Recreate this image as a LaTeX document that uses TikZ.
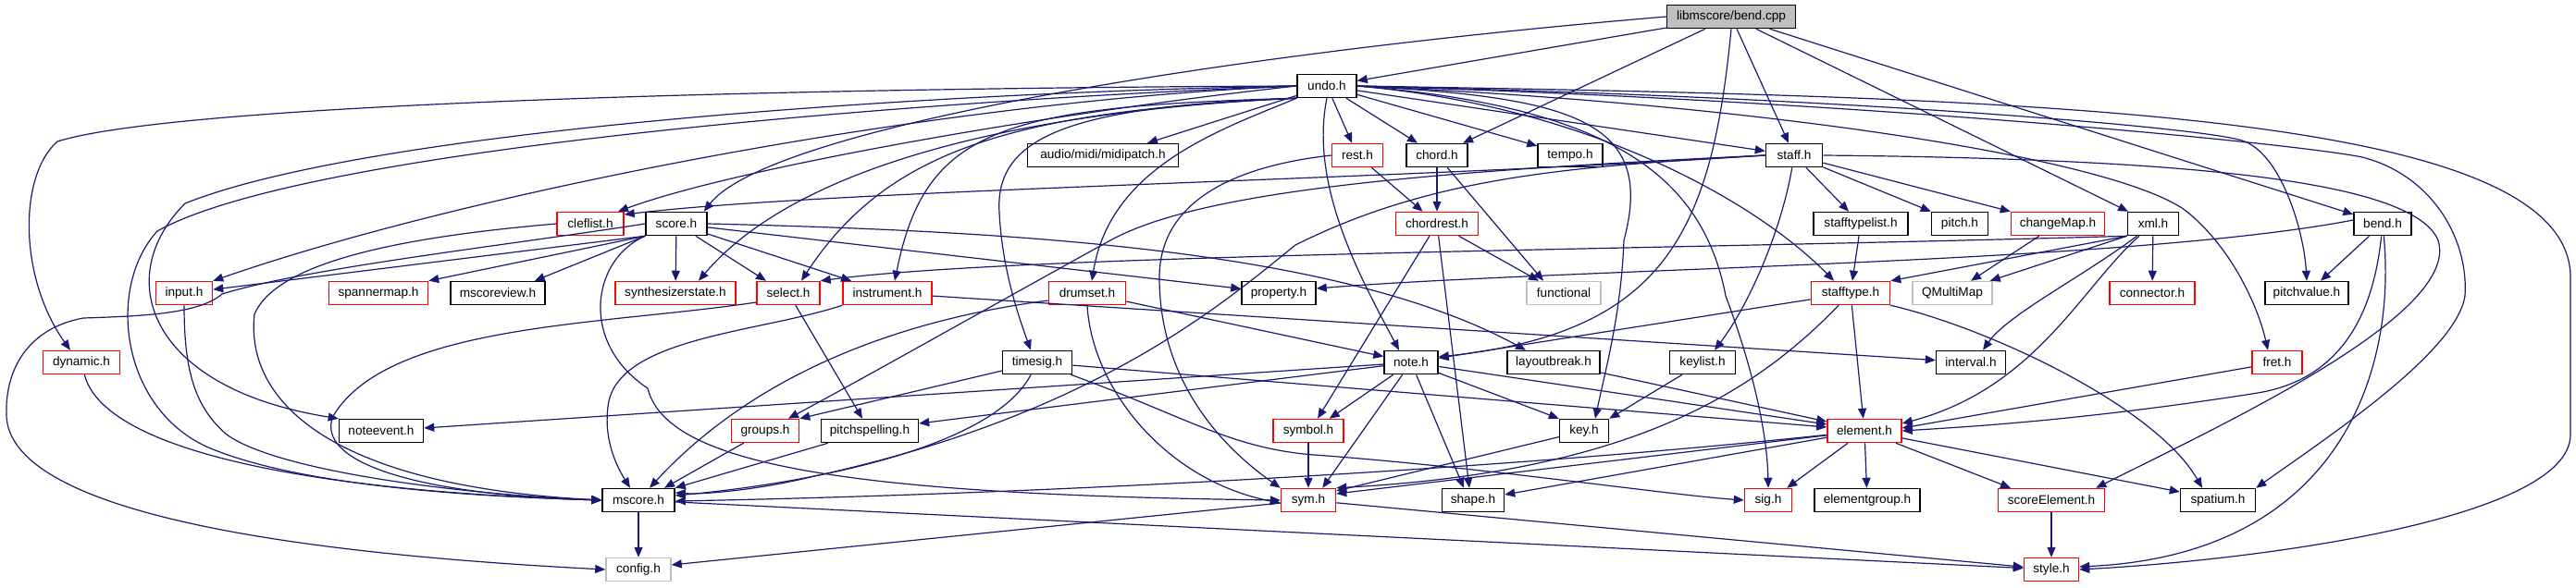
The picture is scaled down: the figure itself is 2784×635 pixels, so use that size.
\documentclass[tikz,border=0pt]{standalone}
\usepackage{fontspec}
\setmainfont{Liberation Sans}
\usetikzlibrary{arrows.meta}
\definecolor{incblue}{HTML}{191970}
\definecolor{extgray}{HTML}{BFBFBF}
\tikzset{
  hdr/.style={draw=black, line width=1.5pt, fill=white, minimum height=25pt, inner sep=0pt, font=\fontsize{13.6}{16}\selectfont},
  hred/.style={hdr, draw=red},
  hext/.style={hdr, draw=extgray},
  hroot/.style={hdr, fill=extgray},
  inc/.style={incblue, line width=1.2pt, -{Triangle[length=11pt,width=9pt]}},
}
\begin{document}
\begin{tikzpicture}[x=1pt,y=-1pt]
\useasboundingbox (0,0) rectangle (2784,635);
% include graph of bend.cpp, one row of files per rank
\node[hroot, minimum width=139pt] (bendcpp) at (1871,18) {libmscore/bend.cpp};
\node[hdr, minimum width=64pt] (undo) at (1434,93) {undo.h};
\node[hdr, minimum width=163pt] (midipatch) at (1192,168) {audio/midi/midipatch.h};
\node[hred, minimum width=55pt] (rest) at (1467,168) {rest.h};
\node[hdr, minimum width=66pt] (chord) at (1553,168) {chord.h};
\node[hdr, minimum width=70pt] (tempo) at (1697,168) {tempo.h};
\node[hdr, minimum width=61pt] (staff) at (1939,168) {staff.h};
\node[hred, minimum width=72pt] (cleflist) at (638,242) {cleflist.h};
\node[hdr, minimum width=66pt] (score) at (731,242) {score.h};
\node[hred, minimum width=89pt] (chordrest) at (1553,242) {chordrest.h};
\node[hdr, minimum width=102pt] (stafftypelist) at (2011,242) {stafftypelist.h};
\node[hdr, minimum width=61pt] (pitch) at (2118,242) {pitch.h};
\node[hred, minimum width=101pt] (changeMap) at (2224,242) {changeMap.h};
\node[hdr, minimum width=55pt] (xml) at (2327,242) {xml.h};
\node[hdr, minimum width=62pt] (bendh) at (2575,242) {bend.h};
\node[hred, minimum width=61pt] (input) at (199,317) {input.h};
\node[hred, minimum width=107pt] (spannermap) at (409,317) {spannermap.h};
\node[hdr, minimum width=102pt] (mscoreview) at (538,317) {mscoreview.h};
\node[hred, minimum width=130pt] (synthesizerstate) at (730,317) {synthesizerstate.h};
\node[hred, minimum width=68pt] (select) at (852,317) {select.h};
\node[hred, minimum width=96pt] (instrument) at (959,317) {instrument.h};
\node[hred, minimum width=83pt] (drumset) at (1175,317) {drumset.h};
\node[hdr, minimum width=80pt] (property) at (1382,317) {property.h};
\node[hext, minimum width=80pt] (functional) at (1690,317) {functional};
\node[hred, minimum width=85pt] (stafftype) at (2000,317) {stafftype.h};
\node[hext, minimum width=86pt] (QMultiMap) at (2110,317) {QMultiMap};
\node[hred, minimum width=92pt] (connector) at (2326,317) {connector.h};
\node[hdr, minimum width=90pt] (pitchvalue) at (2493,317) {pitchvalue.h};
\node[hred, minimum width=83pt] (dynamic) at (88,392) {dynamic.h};
\node[hdr, minimum width=75pt] (timesig) at (1121,392) {timesig.h};
\node[hdr, minimum width=58pt] (note) at (1525,392) {note.h};
\node[hdr, minimum width=100pt] (layoutbreak) at (1679,392) {layoutbreak.h};
\node[hdr, minimum width=71pt] (keylist) at (1840,392) {keylist.h};
\node[hdr, minimum width=75pt] (interval) at (2130,392) {interval.h};
\node[hred, minimum width=54pt] (fret) at (2461,392) {fret.h};
\node[hdr, minimum width=91pt] (noteevent) at (412,466) {noteevent.h};
\node[hred, minimum width=73pt] (groups) at (827,466) {groups.h};
\node[hdr, minimum width=105pt] (pitchspelling) at (940,466) {pitchspelling.h};
\node[hred, minimum width=76pt] (symbol) at (1414,466) {symbol.h};
\node[hdr, minimum width=53pt] (key) at (1712,466) {key.h};
\node[hred, minimum width=80pt] (element) at (2015,466) {element.h};
\node[hdr, minimum width=78pt] (mscore) at (690,541) {mscore.h};
\node[hred, minimum width=59pt] (sym) at (1414,541) {sym.h};
\node[hdr, minimum width=67pt] (shape) at (1592,541) {shape.h};
\node[hred, minimum width=51pt] (sig) at (1911,541) {sig.h};
\node[hdr, minimum width=114pt] (elementgroup) at (2018,541) {elementgroup.h};
\node[hred, minimum width=115pt] (scoreElement) at (2217,541) {scoreElement.h};
\node[hdr, minimum width=81pt] (spatium) at (2397,541) {spatium.h};
\node[hext, minimum width=70pt] (config) at (690,616) {config.h};
\node[hred, minimum width=59pt] (style) at (2217,616) {style.h};

% bend.cpp
\draw[inc] (bendcpp) -- (undo);
\draw[inc] (bendcpp.west) .. controls (1300,60) and (830,140) .. ([xshift=-4]score.north east);
\draw[inc] (bendcpp) -- (chord);
\draw[inc] (bendcpp.south) .. controls (1850,250) and (1800,360) .. ([yshift=6]note.east);
\draw[inc] (bendcpp) -- (staff);
\draw[inc] (bendcpp) -- (xml);
\draw[inc] (bendcpp) -- (bendh);
% undo.h
\draw[inc] (undo.west) .. controls (900,95) and (200,110) .. (62,153) .. controls (20,190) and (20,300) .. ([xshift=-12]dynamic.north);
\draw[inc] (undo.west) .. controls (1000,100) and (400,140) .. (200,220) .. controls (120,300) and (160,420) .. (noteevent.north west);
\draw[inc] (undo.west) .. controls (1000,108) and (330,160) .. (170,250) .. controls (115,310) and (130,440) .. (223,483) .. controls (330,530) and (550,538) .. (mscore.west);
\draw[inc] (undo.west) .. controls (1000,110) and (500,210) .. (input.north east);
\draw[inc] (undo.west) .. controls (1150,120) and (800,180) .. ([xshift=30]cleflist.north);
\draw[inc] (undo.south west) .. controls (1100,120) and (860,180) .. ([xshift=25]synthesizerstate.north);
\draw[inc] (undo.south west) .. controls (1100,120) and (960,160) .. ([xshift=14]select.north);
\draw[inc] (undo.south west) .. controls (1080,115) and (1000,140) .. ([xshift=8]instrument.north);
\draw[inc] (undo.south west) .. controls (1150,115) and (1075,150) .. (1080,230) .. controls (1083,290) and (1100,340) .. ([xshift=-7]timesig.north);
\draw[inc] (undo.south west) .. controls (1320,140) and (1200,180) .. ([xshift=5]drumset.north);
\draw[inc] (undo) -- ([xshift=48]midipatch.north);
\draw[inc] (undo) -- (rest);
\draw[inc] (undo) -- (chord);
\draw[inc] (undo) -- (tempo);
\draw[inc] (undo) -- (staff);
\draw[inc] (undo.south) .. controls (1415,200) and (1470,300) .. ([xshift=-13]note.north);
\draw[inc] (undo.east) .. controls (1700,105) and (1790,130) .. (1755,260) .. controls (1752,340) and (1735,400) .. ([xshift=12]key.north);
\draw[inc] (undo.east) .. controls (1740,115) and (1840,190) .. (1865,320) .. controls (1895,400) and (1910,470) .. (sig.north);
\draw[inc] (undo.east) .. controls (1720,115) and (1900,220) .. ([xshift=-18]stafftype.north);
\draw[inc] (undo.east) .. controls (1900,112) and (2280,170) .. (2361,227) .. controls (2410,265) and (2440,330) .. ([xshift=-10]fret.north);
\draw[inc] (undo.east) .. controls (2000,105) and (2380,138) .. (2423,152) .. controls (2465,165) and (2490,250) .. (pitchvalue.north);
\draw[inc] (undo.east) .. controls (2000,108) and (2480,155) .. (2553,170) .. controls (2630,190) and (2668,260) .. (2664,320) .. controls (2655,380) and (2520,470) .. (spatium.north east);
\draw[inc] (undo.east) .. controls (2200,105) and (2778,120) .. (2778,300) -- (2778,470) .. controls (2778,560) and (2450,605) .. (style.east);
% staff.h
\draw[inc] (staff.west) .. controls (1500,195) and (900,205) .. ([yshift=10]cleflist.east);
\draw[inc] (staff.west) .. controls (1550,185) and (1300,205) .. (1200,260) .. controls (1100,315) and (950,400) .. ([xshift=25]groups.north);
\draw[inc] (staff.west) .. controls (1700,180) and (1550,190) .. (1400,265) .. controls (1320,330) and (1180,450) .. (880,515) .. controls (820,530) and (760,535) .. ([yshift=8]mscore.east);
\draw[inc] (staff) .. controls (1925,250) and (1890,330) .. ([xshift=13]keylist.north);
\draw[inc] (staff) -- (stafftypelist);
\draw[inc] (staff) -- (pitch.north west);
\draw[inc] (staff) -- (changeMap.north west);
\draw[inc] (staff.east) .. controls (2400,172) and (2610,200) .. (2635,260) .. controls (2660,340) and (2400,460) .. ([xshift=-10]scoreElement.north east);
% rest.h, chord.h, chordrest.h
\draw[inc] (rest) -- (chordrest);
\draw[inc] (rest.west) .. controls (1330,180) and (1253,220) .. (1253,300) .. controls (1253,420) and (1330,490) .. (sym.north west);
\draw[inc] (chord) -- (chordrest);
\draw[inc] (chord) -- ([xshift=-22]functional.north);
\draw[inc] (chordrest) -- ([xshift=-27]functional.north);
\draw[inc] (chordrest) -- ([xshift=10]symbol.north);
\draw[inc] (chordrest) -- ([xshift=-4]shape.north);
% score.h
\draw[inc] (score.south west) -- (input);
\draw[inc] (score.south west) -- (spannermap.north east);
\draw[inc] (score.south west) -- ([xshift=-12]mscoreview.north east);
\draw[inc] (score) -- (synthesizerstate);
\draw[inc] (score) -- ([xshift=-24]select.north);
\draw[inc] (score) -- ([xshift=-39]instrument.north);
\draw[inc] (score) -- (property);
\draw[inc] (score.east) .. controls (1100,250) and (1450,270) .. ([xshift=-30]layoutbreak.north);
\draw[inc] (score.south west) .. controls (640,280) and (625,370) .. (700,420) .. controls (720,500) and (900,535) .. (sym.west);
\draw[inc] (score.west) .. controls (550,265) and (330,290) .. (240,318) .. controls (215,340) and (150,342) .. (90,344) .. controls (30,355) and (5,400) .. (7,450) .. controls (10,520) and (150,590) .. (config.west);
% middle ranks
\draw[inc] ([yshift=-10]select.west) .. controls (650,352) and (420,350) .. (360,450) .. controls (340,500) and (450,535) .. (mscore.west);
\draw[inc] (select) -- ([xshift=-8]pitchspelling.north);
\draw[inc] (instrument.south west) .. controls (820,360) and (665,365) .. (657,440) .. controls (652,480) and (670,510) .. ([xshift=-9]mscore.north);
\draw[inc] (instrument) -- (interval);
\draw[inc] ([yshift=-8]drumset.west) .. controls (980,345) and (820,400) .. ([xshift=12]mscore.north);
\draw[inc] (drumset) -- (note);
\draw[inc] (drumset.south) .. controls (1180,420) and (1260,520) .. ([yshift=-3]sym.west);
\draw[inc] (timesig) -- (groups.north east);
\draw[inc] (timesig) .. controls (1070,490) and (850,525) .. ([yshift=5]mscore.east);
\draw[inc] (timesig) -- ([yshift=4]element.west);
\draw[inc] (timesig) .. controls (1280,450) and (1330,485) .. (1420,492) .. controls (1600,505) and (1800,535) .. (sig.west);
\draw[inc] (note) -- (noteevent);
\draw[inc] (note) -- ([yshift=8]pitchspelling.east);
\draw[inc] (note) -- ([xshift=-16]symbol.north east);
\draw[inc] (note) -- ([xshift=-15]sym.north east);
\draw[inc] (note) -- ([xshift=-10]shape.north);
\draw[inc] (note) -- (key.north west);
\draw[inc] (note) -- ([yshift=7]element.west);
\draw[inc] (layoutbreak) -- ([yshift=10]element.west);
\draw[inc] (keylist) -- (key.north east);
\draw[inc] (fret) -- ([yshift=3]element.east);
\draw[inc] (stafftypelist) -- (stafftype);
\draw[inc] (changeMap) -- ([xshift=20]QMultiMap.north);
\draw[inc] (stafftype) -- (note);
\draw[inc] (stafftype) -- (element);
\draw[inc] (stafftype) .. controls (1900,420) and (1770,510) .. (sym.north east);
\draw[inc] (stafftype.south east) .. controls (2150,355) and (2330,440) .. ([xshift=-17]spatium.north);
% xml.h, bend.h
\draw[inc] (xml.south west) .. controls (1800,270) and (1100,275) .. (select.north east);
\draw[inc] (xml.south west) -- (stafftype.north east);
\draw[inc] (xml.south west) -- ([xshift=-3]QMultiMap.north east);
\draw[inc] (xml) .. controls (2250,300) and (2170,340) .. ([xshift=13]interval.north);
\draw[inc] (xml) .. controls (2250,310) and (2200,420) .. ([yshift=8]element.east);
\draw[inc] (xml) -- (connector);
\draw[inc] ([yshift=4]bendh.west) .. controls (2300,285) and (1700,290) .. ([yshift=5]property.east);
\draw[inc] (bendh) -- ([xshift=15]pitchvalue.north);
\draw[inc] (bendh) .. controls (2565,340) and (2530,410) .. (2440,425) .. controls (2250,455) and (2120,462) .. (element.east);
\draw[inc] (bendh) .. controls (2590,400) and (2530,600) .. ([yshift=3]style.east);
% element.h
\draw[inc] (element) .. controls (1600,510) and (1100,535) .. ([yshift=-1]mscore.east);
\draw[inc] (element) -- ([yshift=7]sym.east);
\draw[inc] (element) -- ([yshift=6]shape.east);
\draw[inc] (element) -- ([xshift=-6]sig.north east);
\draw[inc] (element) -- (elementgroup);
\draw[inc] (element) -- ([xshift=-44]scoreElement.north);
\draw[inc] (element) -- ([yshift=9]spatium.west);
% bottom ranks
\draw[inc] (input) .. controls (199,400) and (210,440) .. (245,470) .. controls (300,510) and (500,535) .. (mscore.west);
\draw[inc] (dynamic) .. controls (110,480) and (300,530) .. (mscore.west);
\draw[inc] (cleflist.west) .. controls (450,255) and (300,280) .. (275,340) .. controls (265,430) and (350,525) .. (mscore.west);
\draw[inc] (groups) -- ([xshift=28]mscore.north);
\draw[inc] (pitchspelling) -- (mscore.north east);
\draw[inc] (symbol) -- (sym);
\draw[inc] (key) -- ([yshift=10]sym.east);
\draw[inc] (mscore) -- (config);
\draw[inc] (mscore) -- (style);
\draw[inc] (sym) -- ([yshift=5]config.east);
\draw[inc] (sym) -- (style);
\draw[inc] (scoreElement) -- (style);
\end{tikzpicture}
\end{document}
